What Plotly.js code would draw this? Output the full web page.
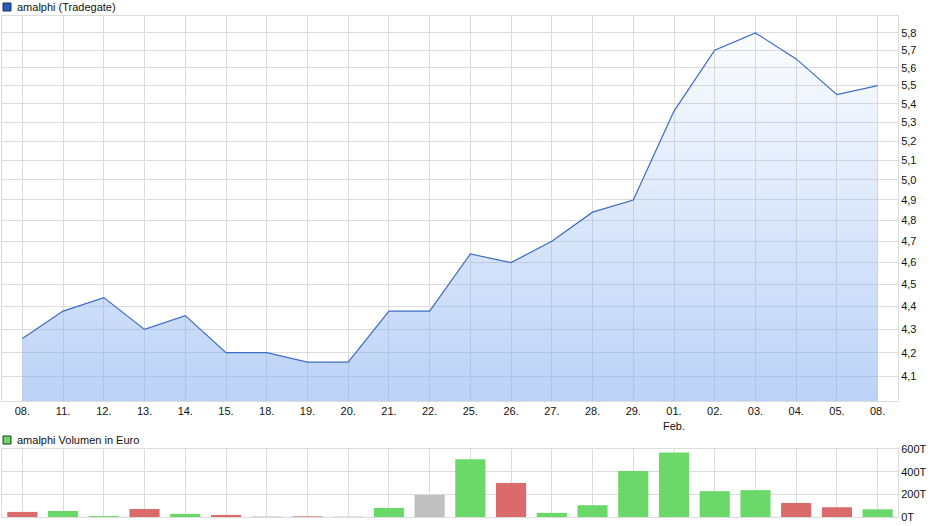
<!DOCTYPE html>
<html>
<head>
<meta charset="utf-8">
<script src="https://cdn.plot.ly/plotly-3.0.1.min.js"></script>
<style>
  html, body { margin: 0; padding: 0; background: #fff; }
  #chart { width: 940px; height: 526px; }
</style>
</head>
<body>
<div id="chart"></div>
<script>
// Trading days shown on the axis (day of month) and month marker under the first day of a month
const days = ['08.', '11.', '12.', '13.', '14.', '15.', '18.', '19.', '20.', '21.', '22.',
              '25.', '26.', '27.', '28.', '29.', '01.', '02.', '03.', '04.', '05.', '08.'];
const months = ['', '', '', '', '', '', '', '', '', '', '',
                '', '', '', '', '', 'Feb.', '', '', '', '', ''];

// Closing prices (Tradegate), EUR
const closes = [4.26, 4.38, 4.44, 4.30, 4.36, 4.20, 4.20, 4.16, 4.16, 4.38, 4.38,
                4.64, 4.60, 4.70, 4.84, 4.90, 5.36, 5.70, 5.80, 5.65, 5.45, 5.50];

// Daily turnover in EUR
const volumes = [45000, 53000, 8000, 71000, 27000, 18000, 5000, 6000, 4000, 80000, 195000,
                 510000, 300000, 36000, 104000, 406000, 569000, 228000, 237000, 124000, 86000, 68000];

// Change of the first session against the previous close (down)
const firstChange = -1;

// Price axis: visible range and ticks; volume axis ticks
const priceMin = 4.0, priceMax = 5.9;
const priceTicks = [4.1, 4.2, 4.3, 4.4, 4.5, 4.6, 4.7, 4.8, 4.9, 5.0, 5.1, 5.2, 5.3, 5.4, 5.5, 5.6, 5.7, 5.8];
const volumeTicks = [0, 200000, 400000, 600000];
const volumeTickText = ['0T', '200T', '400T', '600T'];

const idx = days.map((_, i) => i);
const tickText = days.map((d, i) => months[i] ? d + '<br>' + months[i] : d);

// Bar colour from the price move of the day
const barColors = closes.map((c, i) => {
  const ch = i === 0 ? firstChange : c - closes[i - 1];
  if (Math.abs(ch) < 1e-9) return '#c0c0c0';
  return ch > 0 ? '#6ad96a' : '#db6a6a';
});

// Pixel helpers for the legend boxes (plot area 2..898 x, 16..517 y)
const L = 2, R = 42, T = 16, B = 9, W = 940, H = 526;
const pw = W - L - R, ph = H - T - B;
const px = X => (X - L) / pw;
const py = Y => (H - B - Y) / ph;

const gridColor = '#dcdcdc';
const font = { family: 'Liberation Sans, Arial, sans-serif', size: 11, color: '#111' };

// Flat floor line at the bottom of the price axis, the area is filled up to the closes
const floorTrace = {
  x: idx, y: idx.map(() => priceMin), type: 'scatter', mode: 'lines',
  line: { width: 0, color: 'rgba(0,0,0,0)' },
  xaxis: 'x', yaxis: 'y', hoverinfo: 'skip'
};

const priceTrace = {
  x: idx, y: closes, type: 'scatter', mode: 'lines',
  line: { color: '#3a6cc6', width: 1.2 },
  fill: 'tonexty',
  fillgradient: {
    type: 'vertical',
    start: priceMin, stop: Math.max(...closes),
    colorscale: [[0, 'rgba(130,172,240,0.54)'], [1, 'rgba(130,172,240,0.03)']]
  },
  xaxis: 'x', yaxis: 'y', hoverinfo: 'skip'
};

const volumeTrace = {
  x: idx, y: volumes, type: 'bar',
  marker: { color: barColors, line: { width: 0 } },
  xaxis: 'x2', yaxis: 'y2', hoverinfo: 'skip'
};

const layout = {
  width: W, height: H,
  margin: { l: L, r: R, t: T, b: B, pad: 0 },
  paper_bgcolor: '#fff', plot_bgcolor: '#fff',
  font: font,
  separators: ',.',
  showlegend: false,
  bargap: 0.26,
  xaxis: {
    domain: [0, 1], range: [-0.5, days.length - 0.5],
    tickmode: 'array', tickvals: idx, ticktext: tickText,
    ticks: '', showgrid: true, gridcolor: gridColor, gridwidth: 1,
    showline: true, linecolor: gridColor, mirror: true, zeroline: false,
    anchor: 'y', fixedrange: true
  },
  yaxis: {
    domain: [py(401), 1], type: 'log',
    range: [Math.log10(priceMin), Math.log10(priceMax)],
    side: 'right', tickmode: 'array', tickvals: priceTicks, tickformat: '.1f',
    ticks: '', showgrid: true, gridcolor: gridColor, gridwidth: 1,
    showline: true, linecolor: gridColor, mirror: true, zeroline: false,
    anchor: 'x', fixedrange: true
  },
  xaxis2: {
    domain: [0, 1], range: [-0.5, days.length - 0.5],
    tickmode: 'array', tickvals: idx, showticklabels: false,
    ticks: '', showgrid: true, gridcolor: gridColor, gridwidth: 1,
    showline: true, linecolor: gridColor, mirror: true, zeroline: false,
    anchor: 'y2', fixedrange: true
  },
  yaxis2: {
    domain: [0, py(449)], range: [0, 600000],
    side: 'right', tickmode: 'array', tickvals: volumeTicks, ticktext: volumeTickText,
    ticks: '', showgrid: true, gridcolor: gridColor, gridwidth: 1,
    showline: true, linecolor: gridColor, mirror: true, zeroline: false,
    anchor: 'x2', fixedrange: true
  },
  shapes: [
    { type: 'rect', xref: 'paper', yref: 'paper', x0: px(3), x1: px(11), y0: py(11), y1: py(3),
      fillcolor: '#2a5cc0', line: { color: '#1b2e55', width: 1 } },
    { type: 'rect', xref: 'paper', yref: 'paper', x0: px(3), x1: px(11), y0: py(444), y1: py(436),
      fillcolor: '#6ad96a', line: { color: '#1e3a1e', width: 1 } }
  ],
  annotations: [
    { text: 'amalphi (Tradegate)', xref: 'paper', yref: 'paper', x: px(15), y: py(7),
      xanchor: 'left', yanchor: 'middle', showarrow: false, font: font },
    { text: 'amalphi Volumen in Euro', xref: 'paper', yref: 'paper', x: px(15), y: py(440),
      xanchor: 'left', yanchor: 'middle', showarrow: false, font: font }
  ]
};

Plotly.newPlot('chart', [floorTrace, priceTrace, volumeTrace], layout, { displayModeBar: false, staticPlot: true });
</script>
</body>
</html>
